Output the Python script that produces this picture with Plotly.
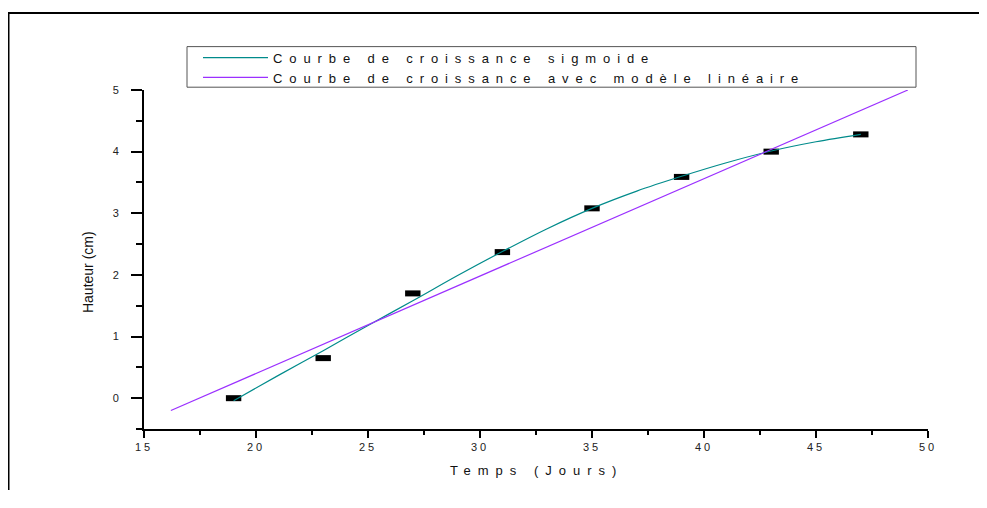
import plotly.graph_objects as go

# ---- data ----
days = [19, 23, 27, 31, 35, 39, 43, 47]
height_cm = [0.0, 0.65, 1.70, 2.37, 3.08, 3.59, 4.00, 4.28]

sigmoid_x = [19, 21, 23, 25, 27, 29, 31, 33, 35, 37, 39, 41, 43, 45, 47]
sigmoid_y = [-0.04, 0.37, 0.77, 1.18, 1.58, 1.99, 2.38, 2.75, 3.08, 3.36, 3.60, 3.82, 4.01, 4.16, 4.28]

linear_x = [16.2, 49.1]
linear_y = [-0.20, 5.00]

x_tickvals = [15, 20, 25, 30, 35, 40, 45, 50]
x_ticktext = ["15", "20", "25", "30", "35", "40", "45", "50"]
y_tickvals = [0, 1, 2, 3, 4, 5]
y_ticktext = ["0", "1", "2", "3", "4", "5"]

name_sigmoid = "Courbe de croissance sigmoide"
name_linear = "Courbe de croissance avec modèle linéaire"
x_title = "Temps (Jours)"
y_title = "Hauteur (cm)"

FONT = "Liberation Sans, Arial, sans-serif"


def spaced(txt, ls):
    return f'<span style="letter-spacing:{ls}px">{txt}</span>'


fig = go.Figure()

fig.add_trace(go.Scatter(
    x=days, y=height_cm, mode="markers", showlegend=False,
    marker=dict(symbol="line-ew", size=11, color="black",
                line=dict(color="black", width=6)),
    hoverinfo="x+y",
))
fig.add_trace(go.Scatter(
    x=sigmoid_x, y=sigmoid_y, mode="lines", name=spaced(name_sigmoid, 6.9),
    line=dict(color="#008B8B", width=1.2, shape="spline"),
))
fig.add_trace(go.Scatter(
    x=linear_x, y=linear_y, mode="lines", name=spaced(name_linear, 6.9),
    line=dict(color="#9B30FF", width=1.2),
))

OFF = 8  # page body margin
W, H = 987 - OFF, 508 - 2 * OFF - 10
L = 144 - OFF
R = W - (928 - OFF)
T = 90.3 - OFF
B = H - (428.7 - OFF)
pw, ph = W - L - R, H - T - B


def px(xw):
    return (xw - OFF - L) / pw


def py(yw):
    return (H - B - (yw - OFF)) / ph


fig.update_layout(
    width=W, height=H,
    margin=dict(l=L, r=R, t=T, b=B),
    paper_bgcolor="white", plot_bgcolor="white",
    font=dict(family=FONT, color="#222222", size=11),
    showlegend=True,
    legend=dict(
        x=px(198), y=py(43), xanchor="left", yanchor="top",
        bgcolor="rgba(0,0,0,0)", borderwidth=0,
        font=dict(family=FONT, size=13, color="#111111"),
        itemwidth=65, tracegroupgap=0,
    ),
    xaxis=dict(
        range=[15, 50], tickmode="array", tickvals=x_tickvals,
        ticktext=[spaced(t, 3) for t in x_ticktext],
        showgrid=False, zeroline=False, showline=True, linecolor="black", linewidth=2,
        ticks="outside", ticklen=7, tickwidth=2, tickcolor="black",
        minor=dict(ticks="outside", ticklen=4, tickwidth=2, tickcolor="black", dtick=2.5, tick0=15),
        tickfont=dict(family=FONT, size=11, color="#222222"),
    ),
    yaxis=dict(
        range=[-0.5, 5], tickmode="array", tickvals=y_tickvals, ticktext=y_ticktext,
        showgrid=False, zeroline=False, showline=True, linecolor="black", linewidth=2,
        ticks="outside", ticklen=11, tickwidth=2, tickcolor="black",
        minor=dict(ticks="outside", ticklen=6, tickwidth=2, tickcolor="black", dtick=0.5, tick0=0),
        tickfont=dict(family=FONT, size=11, color="#222222"),
        ticklabelstandoff=10,
    ),
    annotations=[
        dict(text=spaced(x_title, 7), x=px(536), y=py(470.5), xref="paper", yref="paper",
             xanchor="center", yanchor="middle", showarrow=False,
             font=dict(family=FONT, size=13, color="#111111")),
        dict(text=y_title, x=px(88), y=py(272), xref="paper", yref="paper",
             xanchor="center", yanchor="middle", showarrow=False, textangle=-90,
             font=dict(family=FONT, size=14, color="#111111")),
    ],
    shapes=[
        # outer frame: top and left edges, kept inside the window
        dict(type="line", xref="paper", yref="paper",
             x0=px(7.5), x1=px(987), y0=py(13.5), y1=py(13.5),
             line=dict(color="black", width=2), layer="below"),
        dict(type="line", xref="paper", yref="paper",
             x0=px(8.5), x1=px(8.5), y0=py(12.5), y1=py(505),
             line=dict(color="black", width=2), layer="below"),
        # legend box
        dict(type="rect", xref="paper", yref="paper",
             x0=px(187), x1=px(916), y0=py(87.5), y1=py(47),
             line=dict(color="#555555", width=1), fillcolor="white", layer="above"),
    ],
)

fig.write_html("out.html")
